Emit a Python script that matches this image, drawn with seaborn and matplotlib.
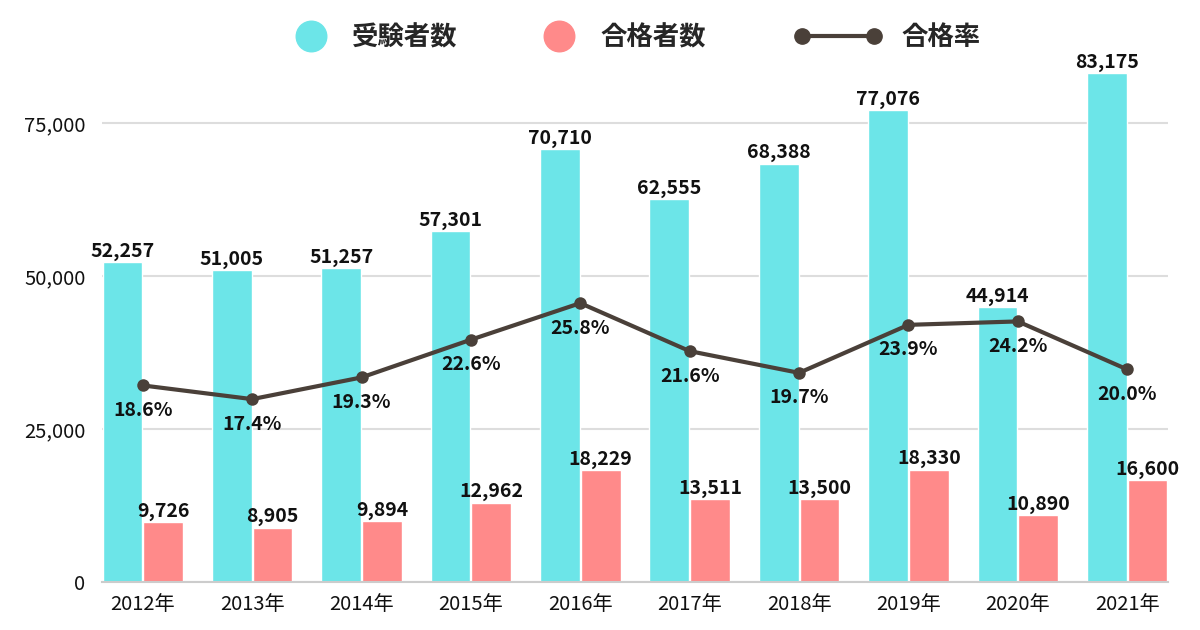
import matplotlib
matplotlib.use("Agg")
import matplotlib.pyplot as plt
from matplotlib.lines import Line2D
import numpy as np
import pandas as pd
import seaborn as sns

years = ["2012年", "2013年", "2014年", "2015年", "2016年",
         "2017年", "2018年", "2019年", "2020年", "2021年"]
examinees = [52257, 51005, 51257, 57301, 70710, 62555, 68388, 77076, 44914, 83175]
passers = [9726, 8905, 9894, 12962, 18229, 13511, 13500, 18330, 10890, 16600]
pass_rate = [18.6, 17.4, 19.3, 22.6, 25.8, 21.6, 19.7, 23.9, 24.2, 20.0]
series_names = ["受験者数", "合格者数", "合格率"]

CYAN = "#6ce5e8"
SALMON = "#ff8a8a"
BROWN = "#4a4039"

sns.set_style("white")
plt.rcParams['font.family'] = ['Noto Sans CJK JP', 'DejaVu Sans']

df = pd.DataFrame({
    "year": years * 2,
    "count": examinees + passers,
    "kind": [series_names[0]] * len(years) + [series_names[1]] * len(years),
})

fig = plt.figure(figsize=(12, 6.3), dpi=100)
ax = fig.add_axes([0.085, 0.0762, 0.8883, 0.8254])

sns.barplot(data=df, x="year", y="count", hue="kind",
            palette=[CYAN, SALMON], width=0.745, gap=0.025,
            ax=ax, legend=False, saturation=1)

for cont in ax.containers:
    ax.bar_label(cont, labels=[f"{v:,.0f}" for v in cont.datavalues],
                 padding=1, fontsize=14, fontweight='bold', color="#111111")

w = 0.745 / 2
ax.set_xlim(-w, len(years) - 1 + w)
ax.set_ylim(0, 85000)
ax.set_yticks([0, 25000, 50000, 75000])
ax.set_yticklabels([f"{v:,}" for v in [0, 25000, 50000, 75000]])
ax.grid(axis="y", color="#dddddd", linewidth=1.5)
ax.set_axisbelow(True)
ax.set_xlabel("")
ax.set_ylabel("")
for s in ["top", "right", "left"]:
    ax.spines[s].set_visible(False)
ax.spines["bottom"].set_color("#cccccc")
ax.spines["bottom"].set_linewidth(1.5)
ax.tick_params(axis="both", length=0, labelsize=14.5, colors="#111111")
ax.tick_params(axis="x", pad=9)
ax.tick_params(axis="y", pad=12)

# pass rate line on a hidden secondary axis
ax2 = ax.twinx()
x = np.arange(len(years))
sns.lineplot(x=x, y=pass_rate, ax=ax2, color=BROWN, linewidth=3,
             marker="o", markersize=9, markeredgewidth=0)
ax2.set_ylim(1.4, 46.9)
ax2.set_xlim(ax.get_xlim())
ax2.axis("off")
for xi, r in zip(x, pass_rate):
    ax2.annotate(f"{r:.1f}%", (xi, r), xytext=(0, -18), textcoords="offset points",
                 ha="center", va="center", fontsize=14, fontweight="bold", color="#111111")

# legend: circles for bars, line with end markers for rate
prop = {"size": 19, "weight": "bold"}
circles = [
    Line2D([], [], linestyle="none", marker="o", markersize=22, color=CYAN),
    Line2D([], [], linestyle="none", marker="o", markersize=22, color=SALMON),
]
leg1 = fig.legend(circles, series_names[:2], loc="center", bbox_to_anchor=(0.4166, 0.94),
                  ncol=2, frameon=False, numpoints=1, handlelength=1.3,
                  handletextpad=0.9, columnspacing=3.2, prop=prop)
line_h = [Line2D([], [], color=BROWN, linewidth=3, marker="o", markersize=11)]
fig.legend(line_h, series_names[2:], loc="center", bbox_to_anchor=(0.7396, 0.94),
           frameon=False, numpoints=2, handlelength=3.3, handletextpad=0.75, prop=prop)

fig.savefig("out.png", dpi=100)
